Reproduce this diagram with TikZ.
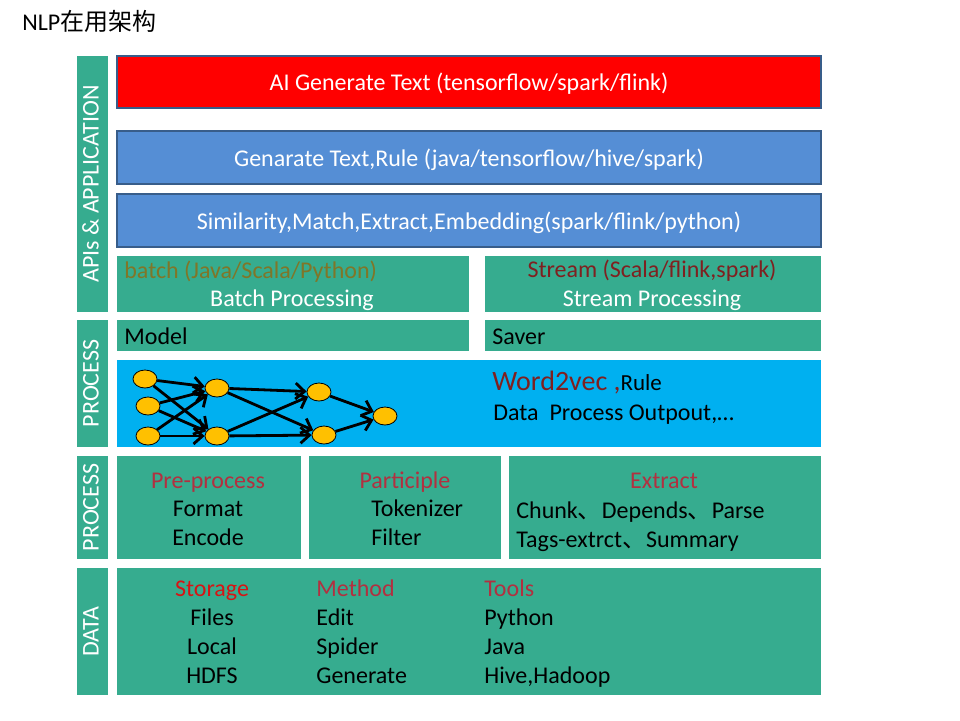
\documentclass[tikz,border=0pt]{standalone}
\usepackage{fontspec}
\setmainfont{Carlito}
\newfontfamily\cjk{Noto Sans CJK SC}
\usetikzlibrary{arrows.meta, positioning, fit, shapes.geometric}

\definecolor{layergreen}{RGB}{54,172,143}
\definecolor{appblue}{RGB}{85,142,213}
\definecolor{frameblue}{RGB}{56,93,138}
\definecolor{netcyan}{RGB}{0,176,240}
\definecolor{nodegold}{RGB}{255,192,0}
\definecolor{olivetext}{RGB}{128,118,40}
\definecolor{darkred}{RGB}{127,32,32}
\definecolor{headred}{RGB}{178,48,64}
\definecolor{brightred}{RGB}{215,20,20}

\tikzset{
    greenbox/.style={fill=layergreen, inner sep=0pt},
    appbox/.style={fill=appblue, draw=frameblue, line width=1pt, inner sep=0pt},
    txt/.style={inner sep=0pt, text height=9.75pt, text depth=1.25pt},
    ltxt/.style={txt, anchor=west},
    sidelabel/.style={inner sep=0pt, text height=8.5pt, text depth=2.5pt, rotate=90, text=white},
    neuron/.style={ellipse, fill=nodegold, draw=black, line width=0.4pt,
        minimum width=12pt, minimum height=9pt, inner sep=0pt},
    link/.style={line width=1.4pt, -{Straight Barb[length=4.5pt, width=8pt]}},
}

\begin{document}
\begin{tikzpicture}[x=0.5pt, y=-0.5pt, font=\fontsize{12}{14}\selectfont]
    \useasboundingbox (0,0) rectangle (960,720);

    % title
    \node[ltxt] (title) at (22,22) {NLP{\cjk 在用架构}};

    % side labels
    \node[greenbox, fit={(77,56) (108,312)}] (sideapi) {};
    \node[greenbox, fit={(77,320) (108,447)}] (sideproc) {};
    \node[greenbox, fit={(77,456) (108,559)}] (sidepre) {};
    \node[greenbox, fit={(77,568) (108,695)}] (sidedata) {};
    \node[sidelabel] at (sideapi) {APIs \& APPLICATION};
    \node[sidelabel] at (sideproc) {PROCESS};
    \node[sidelabel] at (sidepre) {PROCESS};
    \node[sidelabel] at (sidedata) {DATA};

    % application layer
    \node[appbox, fill=red, fit={(117,56) (821,108)}] (aigen) {};
    \node[appbox, fit={(117,131) (821,184)}] (genrule) {};
    \node[appbox, fit={(117,194) (821,247)}] (simil) {};
    \node[txt, text=white] at (aigen) {AI Generate Text (tensorflow/spark/flink)};
    \node[txt, text=white] at (genrule) {Genarate Text,Rule (java/tensorflow/hive/spark)};
    \node[txt, text=white] at (simil) {Similarity,Match,Extract,Embedding(spark/flink/python)};

    % batch / stream
    \node[greenbox, fit={(117,256) (469,312)}] (batch) {};
    \node[greenbox, fit={(485,256) (821,312)}] (stream) {};
    \node[ltxt, text=olivetext] at (124,270) {batch (Java/Scala/Python)};
    \node[txt, text=white] at (292,298) {Batch Processing};
    \node[txt, text=darkred] at (652,269) {Stream (Scala/flink,spark)};
    \node[txt, text=white] at (652,298) {Stream Processing};

    % model / saver
    \node[greenbox, fit={(117,320) (469,351)}] (model) {};
    \node[greenbox, fit={(485,320) (821,351)}] (saver) {};
    \node[ltxt] at (124,336) {Model};
    \node[ltxt] at (492,336) {Saver};

    % network
    \node[fill=netcyan, inner sep=0pt, fit={(117,360) (821,447)}] (netbox) {};
    \node[neuron] (in1) at (145,379) {};
    \node[neuron] (in2) at (148,406) {};
    \node[neuron] (in3) at (148,436) {};
    \node[neuron] (hid1) at (217,388) {};
    \node[neuron] (hid2) at (217,436) {};
    \node[neuron] (mid1) at (319,392) {};
    \node[neuron] (mid2) at (324,435) {};
    \node[neuron] (out) at (385,416) {};
    \foreach \a in {in1,in2,in3}
        \foreach \b in {hid1,hid2}
            \draw[link] (\a) -- (\b);
    \foreach \a in {hid1,hid2}
        \foreach \b in {mid1,mid2}
            \draw[link] (\a) -- (\b);
    \draw[link] (mid1) -- (out);
    \draw[link] (mid2) -- (out);
    \node[anchor=base west, inner sep=0pt] at (492,390) {{\fontsize{14}{16}\selectfont\color{darkred}Word2vec ,}{\fontsize{11.5}{13}\selectfont Rule}};
    \node[ltxt] at (493,412) {Data\ \ Process Outpout,\dots};

    % pre-process layer
    \node[greenbox, fit={(117,456) (301,559)}] (prep) {};
    \node[greenbox, fit={(309,456) (501,559)}] (partic) {};
    \node[greenbox, fit={(509,456) (821,559)}] (extract) {};
    \node[txt, text=headred] at (208,480) {Pre-process};
    \node[txt] at (208,508) {Format};
    \node[txt] at (208,537) {Encode};
    \node[txt, text=headred] at (405,480) {Participle};
    \node[ltxt] at (371,508) {Tokenizer};
    \node[ltxt] at (371,537) {Filter};
    \node[txt, text=headred] at (664,480) {Extract};
    \node[ltxt] at (516,510) {Chunk{\cjk 、}Depends{\cjk 、}Parse};
    \node[ltxt] at (516,539) {Tags-extrct{\cjk 、}Summary};

    % data layer
    \node[greenbox, fit={(117,568) (821,695)}] (data) {};
    \node[txt, text=brightred] at (212,588) {Storage};
    \node[txt] at (212,617) {Files};
    \node[txt] at (212,646) {Local};
    \node[txt] at (212,675) {HDFS};
    \node[ltxt, text=headred] at (316,588) {Method};
    \node[ltxt] at (316,617) {Edit};
    \node[ltxt] at (316,646) {Spider};
    \node[ltxt] at (316,675) {Generate};
    \node[ltxt, text=headred] at (484,588) {Tools};
    \node[ltxt] at (484,617) {Python};
    \node[ltxt] at (484,646) {Java};
    \node[ltxt] at (484,675) {Hive,Hadoop};
\end{tikzpicture}
\end{document}
